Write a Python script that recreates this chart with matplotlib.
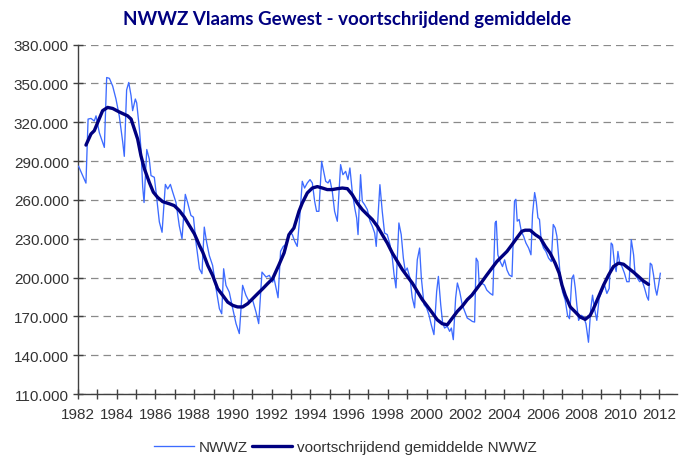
import matplotlib
matplotlib.use("Agg")
import matplotlib.pyplot as plt
from matplotlib.ticker import FuncFormatter, FixedLocator

# ---- data ----
nwwz_t = [1982.03, 1982.41, 1982.52, 1982.67, 1982.84, 1982.93, 1983.10, 1983.36, 1983.48, 1983.62,
          1983.79, 1983.96, 1984.13, 1984.31, 1984.39, 1984.51, 1984.62, 1984.74, 1984.82, 1984.96,
          1985.03, 1985.17, 1985.25, 1985.34, 1985.41, 1985.55, 1985.68, 1985.77, 1985.94, 1986.03,
          1986.20, 1986.34, 1986.51, 1986.63, 1986.77, 1986.89, 1987.06, 1987.23, 1987.37, 1987.54,
          1987.66, 1987.83, 1987.96, 1988.09, 1988.27, 1988.40, 1988.52, 1988.64, 1988.78, 1988.95,
          1989.13, 1989.30, 1989.42, 1989.52, 1989.64, 1989.81, 1989.99, 1990.16, 1990.33, 1990.50,
          1990.67, 1990.85, 1991.02, 1991.19, 1991.33, 1991.50, 1991.71, 1991.88, 1992.05, 1992.12,
          1992.33, 1992.46, 1992.60, 1992.72, 1992.84, 1992.95, 1993.07, 1993.19, 1993.32, 1993.46,
          1993.58, 1993.70, 1993.84, 1993.98, 1994.10, 1994.22, 1994.32, 1994.44, 1994.58, 1994.70,
          1994.79, 1994.91, 1995.01, 1995.13, 1995.25, 1995.39, 1995.56, 1995.68, 1995.82, 1995.94,
          1996.04, 1996.16, 1996.29, 1996.39, 1996.46, 1996.59, 1996.68, 1996.80, 1996.94, 1997.08,
          1997.20, 1997.32, 1997.40, 1997.59, 1997.71, 1997.83, 1997.97, 1998.11, 1998.23, 1998.32,
          1998.42, 1998.57, 1998.69, 1998.80, 1998.90, 1999.00, 1999.14, 1999.26, 1999.38, 1999.52,
          1999.64, 1999.73, 1999.87, 2000.00, 2000.12, 2000.24, 2000.38, 2000.52, 2000.61, 2000.73,
          2000.83, 2000.93, 2001.07, 2001.19, 2001.28, 2001.38, 2001.50, 2001.59, 2001.71, 2001.84,
          2001.97, 2002.10, 2002.24, 2002.36, 2002.48, 2002.56, 2002.65, 2002.72, 2002.86, 2002.99,
          2003.11, 2003.29, 2003.42, 2003.54, 2003.60, 2003.68, 2003.80, 2003.92, 2004.03, 2004.15,
          2004.27, 2004.41, 2004.54, 2004.61, 2004.68, 2004.78, 2004.89, 2005.01, 2005.13, 2005.27,
          2005.39, 2005.47, 2005.58, 2005.66, 2005.75, 2005.83, 2005.92, 2006.04, 2006.16, 2006.30,
          2006.44, 2006.54, 2006.64, 2006.73, 2006.81, 2006.90, 2007.02, 2007.16, 2007.28, 2007.38,
          2007.50, 2007.59, 2007.68, 2007.76, 2007.85, 2007.99, 2008.11, 2008.23, 2008.36, 2008.48,
          2008.57, 2008.67, 2008.79, 2008.91, 2009.05, 2009.19, 2009.31, 2009.43, 2009.53, 2009.60,
          2009.71, 2009.79, 2009.88, 2009.96, 2010.09, 2010.22, 2010.34, 2010.46, 2010.57, 2010.69,
          2010.77, 2010.89, 2011.00, 2011.12, 2011.26, 2011.38, 2011.46, 2011.55, 2011.63, 2011.72,
          2011.81, 2011.89, 2011.98, 2012.07]
nwwz_v = [286000, 273000, 322500, 323000, 321000, 325000, 312000, 300600, 354600, 354000,
          348000, 338000, 325000, 304500, 293700, 345000, 350800, 340500, 329000, 338000,
          335000, 315000, 299400, 270000, 258000, 299000, 291600, 278800, 277500, 266000,
          243000, 235000, 272000, 268500, 272000, 266000, 258000, 240000, 230000, 264300,
          258000, 248000, 246700, 227400, 206800, 203000, 239000, 227400, 217000, 209400,
          191400, 176000, 172000, 206800, 194000, 188800, 176000, 164400, 156700, 194000,
          186300, 181000, 182400, 173400, 164400, 204200, 200400, 201700, 196500, 199600,
          184400, 220300, 224100, 225400, 230500, 235700, 233000, 228000, 224100, 248600,
          274400, 269200, 273100, 275700, 273100, 258900, 251200, 251200, 289800, 280800,
          274400, 273100, 275700, 266600, 251200, 243500, 287300, 279500, 282100, 275700,
          284700, 266600, 253800, 246000, 233200, 279500, 258900, 256300, 252500, 243500,
          239600, 234400, 224100, 271800, 251200, 234400, 233200, 225400, 215100, 202300,
          192000, 242200, 233200, 215100, 204800, 207400, 199600, 184400, 176600, 213800,
          222800, 199600, 179000, 176600, 171300, 163600, 155900, 189200, 200900, 179000,
          164900, 161000, 162300, 158400, 161000, 152000, 184200, 195800, 189300, 179000,
          173900, 168700, 167400, 166100, 165600, 215000, 212400, 194200, 195500, 194200,
          190300, 187700, 186400, 242300, 243600, 217600, 212400, 208500, 213700, 205900,
          202000, 200700, 259200, 260500, 243600, 244900, 235800, 231900, 226700, 222800,
          217600, 248800, 265700, 259200, 246200, 244900, 228000, 222800, 220200, 215000,
          212400, 241000, 238400, 231900, 217600, 202000, 189000, 182500, 170800, 168200,
          199400, 202000, 191600, 178600, 166900, 170800, 169500, 164300, 150000, 176000,
          186400, 176000, 166900, 183800, 189000, 194200, 187700, 191600, 226700, 225400,
          209800, 204600, 220200, 212400, 208500, 203300, 196800, 196800, 229300, 217600,
          202000, 199400, 196800, 198100, 191600, 185100, 182500, 211100, 209800, 202000,
          191600, 186400, 194200, 203300]

ma_t = [1982.41, 1982.67, 1982.84, 1983.02, 1983.27, 1983.53, 1983.79, 1984.13, 1984.56, 1984.74,
        1984.91, 1985.08, 1985.25, 1985.43, 1985.68, 1985.89, 1986.11, 1986.37, 1986.72, 1986.97,
        1987.23, 1987.49, 1987.75, 1988.01, 1988.27, 1988.44, 1988.70, 1988.95, 1989.21, 1989.47,
        1989.73, 1989.99, 1990.24, 1990.50, 1990.76, 1991.02, 1991.28, 1991.54, 1991.79, 1992.05,
        1992.38, 1992.64, 1992.89, 1993.15, 1993.41, 1993.58, 1993.84, 1994.10, 1994.36, 1994.62,
        1994.87, 1995.13, 1995.39, 1995.65, 1995.91, 1996.16, 1996.42, 1996.68, 1996.94, 1997.20,
        1997.46, 1997.71, 1997.97, 1998.23, 1998.49, 1998.75, 1999.00, 1999.26, 1999.52, 1999.78,
        2000.04, 2000.30, 2000.55, 2000.81, 2001.07, 2001.33, 2001.59, 2001.84, 2002.10, 2002.34,
        2002.60, 2002.86, 2003.11, 2003.37, 2003.63, 2003.89, 2004.15, 2004.41, 2004.66, 2004.92,
        2005.09, 2005.35, 2005.61, 2005.87, 2006.13, 2006.38, 2006.64, 2006.85, 2006.99, 2007.16,
        2007.42, 2007.68, 2007.93, 2008.19, 2008.45, 2008.62, 2008.88, 2009.14, 2009.40, 2009.65,
        2009.91, 2010.17, 2010.43, 2010.69, 2010.95, 2011.20, 2011.46]
ma_v = [302400, 311000, 313500, 320000, 329000, 331500, 330700, 328000, 325000, 322500,
        314800, 307000, 294200, 284000, 273600, 266000, 262000, 258700, 257000, 255600,
        251800, 246700, 240200, 233800, 224800, 219700, 209400, 201700, 191400, 186300,
        181000, 178500, 177300, 177300, 179800, 183700, 187600, 191400, 195300, 199100,
        210000, 219000, 233100, 238300, 251200, 257600, 265400, 269200, 270300, 269200,
        268000, 268000, 268700, 269200, 268700, 264100, 257600, 252500, 248600, 244800,
        239600, 233200, 226700, 219000, 212500, 206100, 201000, 195800, 189300, 182900,
        177800, 172600, 167400, 164300, 163500, 168700, 173900, 177800, 182900, 186400,
        191600, 196800, 202000, 207200, 212400, 216300, 220200, 225400, 230600, 235800,
        236600, 236600, 233200, 230600, 224100, 218900, 211100, 203300, 194200, 186400,
        177300, 173400, 169500, 167700, 170800, 176000, 185100, 194200, 202000, 208500,
        211100, 210300, 207200, 204100, 200700, 197300, 194700]

years = list(range(1982, 2013))
year_labels = [str(y) if y % 2 == 0 else "" for y in years]
y_ticks = [110000, 140000, 170000, 200000, 230000, 260000, 290000, 320000, 350000, 380000]

title = "NWWZ Vlaams Gewest - voortschrijdend gemiddelde"
label_raw = "NWWZ"
label_ma = "voortschrijdend gemiddelde NWWZ"

# ---- figure ----
plt.rcParams['font.family'] = ['Liberation Sans', 'DejaVu Sans']
fig = plt.figure(figsize=(6.91, 4.60), dpi=100)
ax = fig.add_axes([0.1129, 0.1413, 0.8668, 0.7594])

ax.plot(nwwz_t, nwwz_v, color="#3D6BFF", lw=0.95, label=label_raw, zorder=3)
ax.plot(ma_t, ma_v, color="#000080", lw=2.4, label=label_ma, zorder=4,
        solid_joinstyle="round", solid_capstyle="round")

ax.set_xlim(1982, 2012.93)
ax.set_ylim(110000, 380000)
ax.xaxis.set_major_locator(FixedLocator(years))
ax.set_xticklabels(year_labels)
ax.yaxis.set_major_locator(FixedLocator(y_ticks))
ax.yaxis.set_major_formatter(FuncFormatter(lambda v, p: f"{v:,.0f}".replace(",", ".")))

ax.grid(axis="y", color="#8a8a8a", linestyle=(0, (6, 4)), lw=0.9)
ax.set_axisbelow(True)
for s in ["top", "right"]:
    ax.spines[s].set_visible(False)
for s in ["left", "bottom"]:
    ax.spines[s].set_color("#404040")
    ax.spines[s].set_linewidth(1.0)
ax.tick_params(axis="both", direction="inout", length=7, width=1.0, color="#404040",
               labelsize=11, labelcolor="#333333")
ax.tick_params(axis="x", pad=6)
ax.tick_params(axis="y", pad=3)

fig.text(0.502, 0.958, title, ha="center", va="center", fontsize=13.5,
         fontweight="bold", color="#000080", family=["Lato", "DejaVu Sans"])

leg = fig.legend(loc="center", bbox_to_anchor=(0.5, 0.025), ncol=2, frameon=False,
                 fontsize=11, handlelength=2.6, columnspacing=0.3, handletextpad=0.3)
for t in leg.get_texts():
    t.set_color("#333333")

fig.savefig("out.png", dpi=100)
